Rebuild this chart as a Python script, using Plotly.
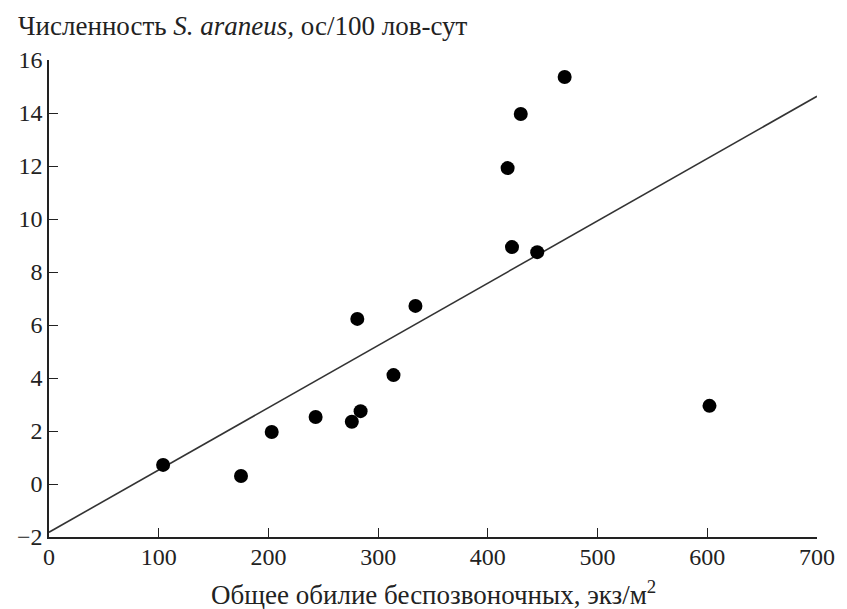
import plotly.graph_objects as go

# Data
invertebrates = [104, 175, 203, 243, 276, 281, 284, 314, 334, 418, 422, 430, 445, 470, 602]
shrews = [0.72, 0.30, 1.96, 2.53, 2.35, 6.23, 2.75, 4.11, 6.72, 11.92, 8.94, 13.96, 8.75, 15.36, 2.95]

# Regression line parameters
intercept = -1.82
slope = 0.0235
line_x = [0, 700]
line_y = [intercept + slope * v for v in line_x]

x_ticks = [0, 100, 200, 300, 400, 500, 600, 700]
y_ticks = [-2, 0, 2, 4, 6, 8, 10, 12, 14, 16]

FONT = "Liberation Serif"

fig = go.Figure()
fig.add_trace(go.Scatter(x=line_x, y=line_y, mode="lines",
                         line=dict(color="#333333", width=1.6),
                         showlegend=False, hoverinfo="skip"))
fig.add_trace(go.Scatter(x=invertebrates, y=shrews, mode="markers",
                         marker=dict(color="black", size=14),
                         showlegend=False))

axis_common = dict(showgrid=False, zeroline=False, showline=True,
                   linecolor="#222222", linewidth=1.5,
                   ticks="inside", ticklen=9, tickwidth=1.3, tickcolor="#222222",
                   tickfont=dict(family=FONT, size=24, color="#222222"))

fig.update_xaxes(range=[0, 700], tickvals=x_ticks, ticklabelstandoff=-3, **axis_common)
fig.update_yaxes(range=[-2, 16], tickvals=y_ticks, **axis_common)

fig.add_annotation(xref="paper", yref="paper", x=0, y=1, xanchor="left", yanchor="middle",
                   xshift=-33, yshift=34, showarrow=False,
                   text="Численность <i>S. araneus,</i> ос/100 лов-сут",
                   font=dict(family=FONT, size=27, color="#222222"))
fig.add_annotation(xref="paper", yref="paper", x=0.5, y=0, xanchor="center", yanchor="middle",
                   yshift=-56, showarrow=False,
                   text="Общее обилие беспозвоночных, экз/м<sup>2</sup>",
                   font=dict(family=FONT, size=27, color="#222222"))

fig.update_layout(width=847, height=609,
                  margin=dict(l=49, r=21, t=60, b=72),
                  plot_bgcolor="white", paper_bgcolor="white")

fig.write_html("out.html", config={"displayModeBar": False},
               post_script="document.body.style.margin='0';document.body.style.overflow='hidden';")
